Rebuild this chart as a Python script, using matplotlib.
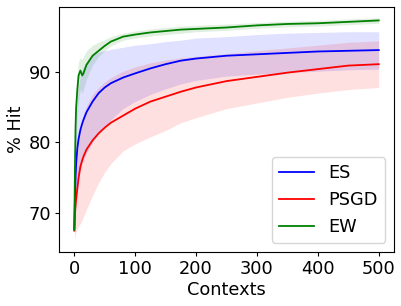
import matplotlib
matplotlib.use('Agg')
import matplotlib.pyplot as plt
import numpy as np

CTX = [0, 1, 2, 3, 5, 7, 10, 13, 15, 20, 30, 40, 50, 60, 80, 100, 125, 150,
       175, 200, 250, 300, 350, 400, 450, 500]

# ES
ES_MEAN = [67.8, 72.0, 75.0, 77.0, 79.2, 80.5, 81.8, 82.7, 83.2, 84.3, 85.8, 87.0,
           87.8, 88.4, 89.2, 89.8, 90.5, 91.1, 91.6, 91.9, 92.3, 92.5, 92.7, 92.9,
           93.0, 93.1]
ES_LOW = [67.2, 68.0, 70.0, 71.0, 73.0, 74.5, 76.0, 77.0, 77.5, 78.5, 80.0, 81.3,
          82.3, 83.2, 84.8, 85.8, 86.8, 87.6, 88.3, 88.8, 89.4, 89.7, 89.9, 90.1,
          90.3, 90.4]
ES_HIGH = [68.2, 76.0, 80.0, 83.0, 86.0, 88.0, 89.5, 90.3, 90.8, 91.5, 92.5, 92.8,
           93.0, 93.2, 93.5, 93.8, 94.0, 94.3, 94.5, 94.8, 95.0, 95.3, 95.5, 95.6,
           95.7, 95.7]

# PSGD
PSGD_MEAN = [67.5, 70.0, 71.0, 72.0, 73.5, 75.0, 76.6, 77.5, 78.0, 79.0, 80.3, 81.3,
             82.1, 82.8, 83.8, 84.8, 85.8, 86.5, 87.2, 87.8, 88.7, 89.3, 89.9, 90.4,
             90.9, 91.1]
PSGD_LOW = [66.3, 66.5, 67.0, 67.3, 67.8, 68.2, 68.5, 69.0, 69.5, 70.5, 72.5, 74.3,
            75.8, 77.0, 78.8, 79.8, 80.8, 81.7, 82.8, 83.5, 84.8, 85.6, 86.4, 87.0,
            87.5, 87.8]
PSGD_HIGH = [68.0, 72.0, 74.0, 76.0, 78.5, 80.5, 82.0, 83.3, 84.0, 85.2, 86.8, 87.8,
             88.6, 89.2, 90.1, 90.7, 91.3, 91.7, 92.0, 92.2, 92.6, 93.0, 93.4, 93.8,
             94.2, 94.4]

# EW
EW_MEAN = [67.6, 76.0, 82.0, 85.0, 87.5, 89.5, 90.2, 89.5, 89.8, 91.0, 92.3, 93.0,
           93.7, 94.3, 95.0, 95.3, 95.6, 95.8, 96.0, 96.1, 96.3, 96.6, 96.8, 96.9,
           97.1, 97.3]
EW_LOW = [67.4, 72.0, 77.0, 80.0, 84.0, 86.0, 87.5, 87.0, 87.5, 89.0, 91.0, 92.2,
          93.0, 93.7, 94.5, 94.8, 95.1, 95.3, 95.5, 95.7, 95.9, 96.2, 96.4, 96.5,
          96.7, 96.9]
EW_HIGH = [67.8, 80.0, 86.0, 88.0, 90.0, 91.5, 92.0, 91.8, 92.2, 93.0, 93.8, 94.2,
           94.6, 95.0, 95.5, 95.8, 96.1, 96.3, 96.5, 96.6, 96.8, 97.0, 97.2, 97.3,
           97.5, 97.7]

SERIES = [
    ('ES', ES_MEAN, ES_LOW, ES_HIGH, 'blue'),
    ('PSGD', PSGD_MEAN, PSGD_LOW, PSGD_HIGH, 'red'),
    ('EW', EW_MEAN, EW_LOW, EW_HIGH, 'green'),
]

fig = plt.figure(figsize=(4.02, 3.06), dpi=100)
ax = fig.add_axes([0.147, 0.177, 0.833, 0.800])

for name, mean, low, high, col in SERIES:
    ax.fill_between(CTX, low, high, color=col, alpha=0.12, linewidth=0)
for name, mean, low, high, col in SERIES:
    ax.plot(CTX, mean, color=col, lw=1.3, label=name)

ax.set_xticks([0, 100, 200, 300, 400, 500])
ax.set_yticks([70, 80, 90])
ax.set_ylim(64.5, 99.2)
ax.tick_params(labelsize=12.8, length=3.1, pad=2.8)
ax.set_xlabel('Contexts', fontsize=12.8, labelpad=2)
ax.set_ylabel('% Hit', fontsize=12.8, labelpad=2)
ax.legend(loc='lower right', fontsize=12.8)

fig.savefig('out.png', dpi=100)
